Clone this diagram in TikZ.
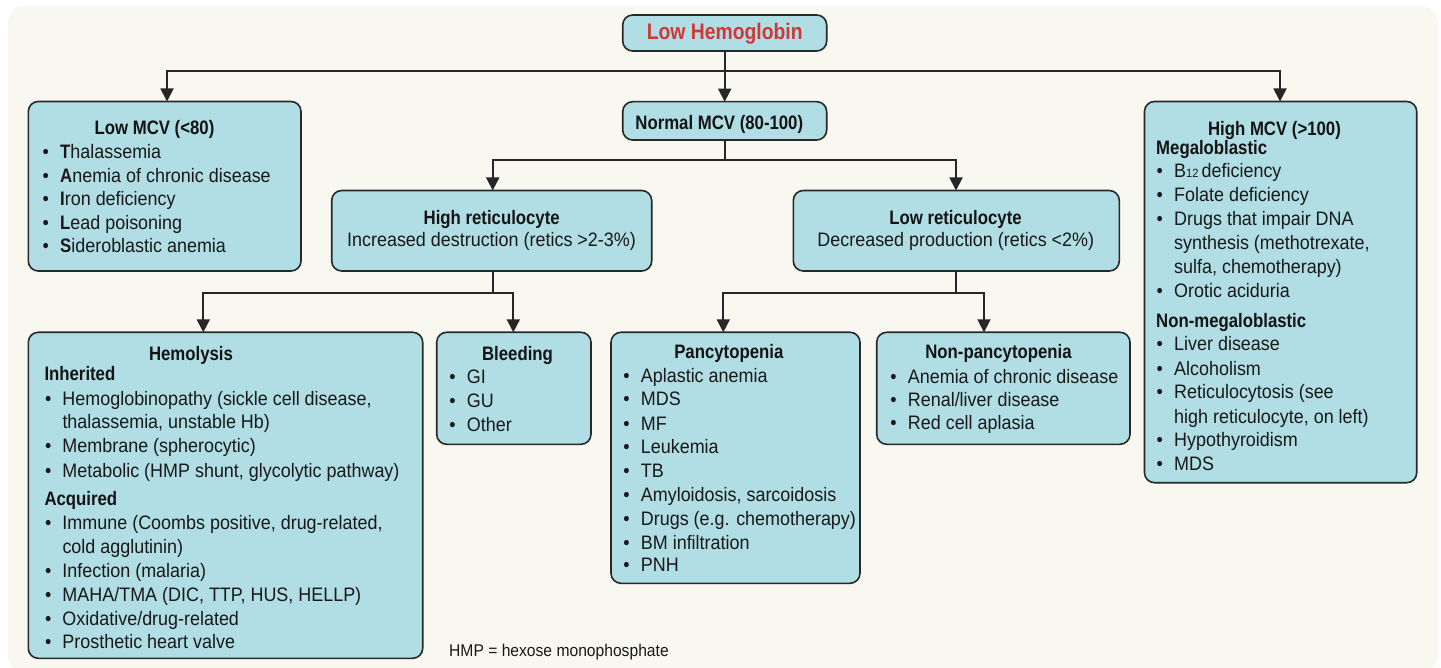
\documentclass[tikz,border=0pt]{standalone}
\usepackage{fontspec}
\setmainfont{Liberation Sans}[UprightFeatures={FakeStretch=0.92},BoldFeatures={FakeStretch=0.86}]
\usetikzlibrary{arrows.meta,calc}
\definecolor{bgc}{RGB}{248,247,240}
\definecolor{boxc}{RGB}{176,222,228}
\definecolor{edgec}{RGB}{40,40,40}
\definecolor{redc}{RGB}{208,56,56}
\newcommand{\bx}[5]{\node[box,minimum width=#4pt,minimum height=#5pt] (#1) at (#2,#3) {};}
\newcommand{\li}[4]{\node[txt] (#1) at ({#2-17.5},#3) {\makebox[17.5pt][l]{\textbullet}#4};}
\newcommand{\cl}[4]{\node[txt] (#1) at (#2,#3) {#4};}
\newcommand{\tl}[4]{\node[ttl] (#1) at (#2,#3) {#4};}
\newcommand{\sh}[4]{\node[sub] (#1) at (#2,#3) {#4};}
\begin{document}
\begin{tikzpicture}[x=1pt,y=-1pt,
 box/.style={draw=edgec, line width=1.6pt, fill=boxc, rounded corners=10pt, anchor=north west, inner sep=0pt, outer sep=0pt},
 txt/.style={anchor=base west, inner sep=0pt, text=black!90, font=\fontsize{19.5}{23.5}\selectfont},
 ttl/.style={anchor=base, inner sep=0pt, text=black!92, font=\fontsize{19.5}{23.5}\selectfont\bfseries},
 sub/.style={anchor=base west, inner sep=0pt, text=black!92, font=\fontsize{19.5}{23.5}\selectfont\bfseries},
 conn/.style={line width=1.8pt, draw=black!85},
 arr/.style={conn, -{Triangle[width=13pt,length=13pt]}}]
\useasboundingbox (0,0) rectangle (1441,668);
\fill[bgc, rounded corners=17pt] (8,6) rectangle (1438,672);

% boxes
\bx{hb}{622.7}{15}{204}{36}
\bx{nmcv}{622.7}{101.7}{204}{38.3}
\bx{lowmcv}{28.3}{101.5}{272.7}{169.5}
\bx{highmcv}{1144.5}{101.5}{272.2}{381.2}
\bx{hret}{331.7}{190.5}{320}{80.5}
\bx{lret}{793.3}{190.5}{326}{80.5}
\bx{hemo}{28.3}{332.3}{394.4}{326}
\bx{bleed}{436.7}{332.3}{154.3}{112}
\bx{pancy}{611}{332.3}{249}{251}
\bx{npancy}{876.7}{332.3}{253.3}{112}

% top
\node[anchor=base, inner sep=0pt, font=\fontsize{22.5}{26}\selectfont\bfseries, text=redc] (hbt) at (724.7,39.6) {Low Hemoglobin};
\tl{nmcvt}{719.3}{129.3}{Normal MCV (80-100)}

% Low MCV
\tl{lowt}{154.5}{135}{Low MCV (<80)}
\li{l1}{60}{159}{\textbf{T}halassemia}
\li{l2}{60}{182.3}{\textbf{A}nemia of chronic disease}
\li{l3}{60}{206}{\textbf{I}ron deficiency}
\li{l4}{60}{229.7}{\textbf{L}ead poisoning}
\li{l5}{60}{253}{\textbf{S}ideroblastic anemia}

% High MCV
\tl{hight}{1274.5}{135.7}{High MCV (>100)}
\sh{megt}{1156}{155}{Megaloblastic}
\li{h1}{1174}{177.7}{B{\fontsize{12}{12}\selectfont 12}\,deficiency}
\li{h2}{1174}{201.7}{Folate deficiency}
\li{h3}{1174}{225.7}{Drugs that impair DNA}
\cl{h3b}{1174}{250}{synthesis (methotrexate,}
\cl{h3c}{1174}{274}{sulfa, chemotherapy)}
\li{h4}{1174}{297.7}{Orotic aciduria}
\sh{nmegt}{1156}{327.3}{Non-megaloblastic}
\li{h5}{1174}{351}{Liver disease}
\li{h6}{1174}{375}{Alcoholism}
\li{h7}{1174}{399}{Reticulocytosis (see}
\cl{h7b}{1174}{423.3}{high reticulocyte, on left)}
\li{h8}{1174}{446.7}{Hypothyroidism}
\li{h9}{1174}{470}{MDS}

% retics
\tl{hrett}{491.7}{225}{High reticulocyte}
\node[anchor=base, inner sep=0pt, text=black!90, font=\fontsize{19.5}{23.5}\selectfont] (hretb) at (491.5,246.7) {Increased destruction (retics >2-3\%)};
\tl{lrett}{955.5}{225}{Low reticulocyte}
\node[anchor=base, inner sep=0pt, text=black!90, font=\fontsize{19.5}{23.5}\selectfont] (lretb) at (955.8,246.7) {Decreased production (retics <2\%)};

% Hemolysis
\tl{hemot}{191}{360}{Hemolysis}
\sh{inht}{44.3}{381}{Inherited}
\li{m1}{62.3}{405}{Hemoglobinopathy (sickle cell disease,}
\cl{m1b}{62.3}{428.3}{thalassemia, unstable Hb)}
\li{m2}{62.3}{452.7}{Membrane (spherocytic)}
\li{m3}{62.3}{477}{Metabolic (HMP shunt, glycolytic pathway)}
\sh{acqt}{44.3}{505}{Acquired}
\li{m4}{62.3}{529.7}{Immune (Coombs positive, drug-related,}
\cl{m4b}{62.3}{553.7}{cold agglutinin)}
\li{m5}{62.3}{577.7}{Infection (malaria)}
\li{m6}{62.3}{601.7}{MAHA/TMA (DIC, TTP, HUS, HELLP)}
\li{m7}{62.3}{625}{Oxidative/drug-related}
\li{m8}{62.3}{648.3}{Prosthetic heart valve}

% Bleeding
\tl{bleedt}{517.5}{360}{Bleeding}
\li{b1}{466.7}{383.3}{GI}
\li{b2}{466.7}{407.3}{GU}
\li{b3}{466.7}{431.7}{Other}

% Pancytopenia
\tl{pancyt}{728.8}{358.3}{Pancytopenia}
\li{p1}{640.7}{382.7}{Aplastic anemia}
\li{p2}{640.7}{406}{MDS}
\li{p3}{640.7}{430}{MF}
\li{p4}{640.7}{453.3}{Leukemia}
\li{p5}{640.7}{477.3}{TB}
\li{p6}{640.7}{501}{Amyloidosis, sarcoidosis}
\li{p7}{640.7}{525}{Drugs (e.g. chemotherapy)}
\li{p8}{640.7}{549}{BM infiltration}
\li{p9}{640.7}{571.7}{PNH}

% Non-pancytopenia
\tl{npancyt}{998.5}{358.3}{Non-pancytopenia}
\li{q1}{907.7}{383.3}{Anemia of chronic disease}
\li{q2}{907.7}{406.7}{Renal/liver disease}
\li{q3}{907.7}{429.7}{Red cell aplasia}

% footnote
\node[anchor=base west, inner sep=0pt, text=black!90, font=\fontsize{17}{20}\selectfont] (fn) at (449,656.7) {HMP = hexose monophosphate};

% connectors
\coordinate (j0) at (724.7,70.7);
\draw[conn] (hb.south) -- (j0);
\draw[arr] (j0) -| ([xshift=138.7pt]lowmcv.north west);
\draw[arr] (j0) -- (nmcv.north);
\draw[arr] (j0) -| ([xshift=135.5pt]highmcv.north west);

\coordinate (j1) at (724.7,160);
\draw[conn] (nmcv.south) -- (j1);
\draw[arr] (j1) -| ([xshift=161pt]hret.north west);
\draw[arr] (j1) -| ([xshift=162.7pt]lret.north west);

\coordinate (j2) at (492.7,292.7);
\draw[conn] ([xshift=161pt]hret.south west) -- (j2);
\draw[arr] (j2) -| ([xshift=175pt]hemo.north west);
\draw[arr] (j2) -| ([xshift=76.6pt]bleed.north west);

\coordinate (j3) at (956,292.7);
\draw[conn] ([xshift=162.7pt]lret.south west) -- (j3);
\draw[arr] (j3) -| ([xshift=112.3pt]pancy.north west);
\draw[arr] (j3) -| ([xshift=107.3pt]npancy.north west);
\end{tikzpicture}
\end{document}
